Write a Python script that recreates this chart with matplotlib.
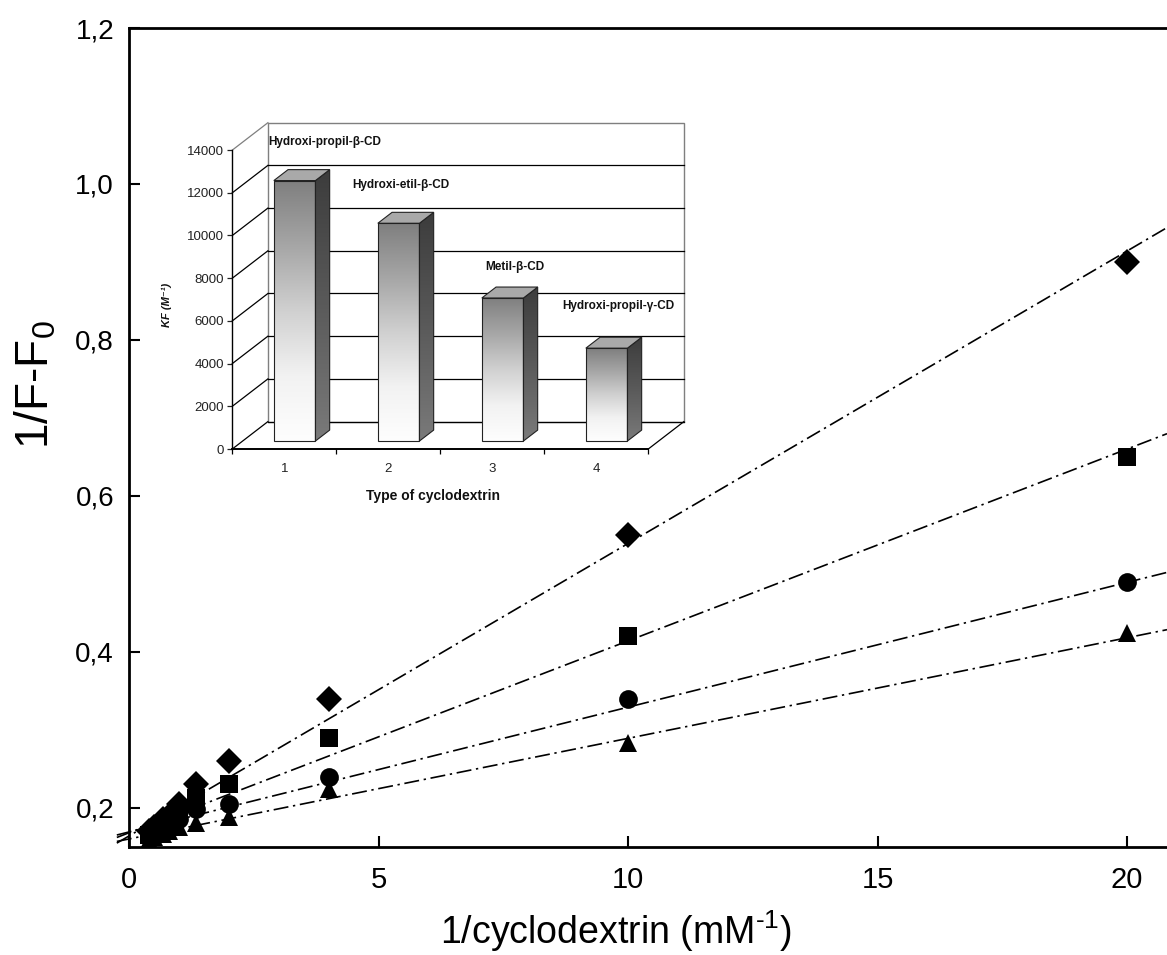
import numpy as np
import matplotlib
matplotlib.use("Agg")
import matplotlib.pyplot as plt
from matplotlib.patches import Polygon
from matplotlib.colors import LinearSegmentedColormap
from matplotlib.ticker import FuncFormatter, FixedLocator

plt.rcParams['font.family'] = ['Liberation Sans', 'DejaVu Sans']
plt.rcParams['mathtext.default'] = 'regular'

# ---- double-reciprocal plot data ----
inv_cd = [0.4, 0.5, 0.67, 0.8, 1.0, 1.33, 2.0, 4.0, 10.0, 20.0]
inv_f_hp_beta = [0.170, 0.175, 0.185, 0.190, 0.205, 0.230, 0.260, 0.340, 0.550, 0.900]
inv_f_he_beta = [0.165, 0.170, 0.178, 0.185, 0.195, 0.213, 0.230, 0.290, 0.420, 0.650]
inv_f_me_beta = [0.163, 0.168, 0.173, 0.178, 0.185, 0.198, 0.205, 0.240, 0.340, 0.490]
inv_f_hp_gamma = [0.158, 0.162, 0.166, 0.170, 0.175, 0.180, 0.188, 0.224, 0.283, 0.424]
series = [inv_f_hp_beta, inv_f_he_beta, inv_f_me_beta, inv_f_hp_gamma]
markers = ['D', 's', 'o', '^']

# linear fits (slope, intercept) of each series
fit_slopes = [0.0375, 0.0246, 0.0160, 0.0129]
fit_intercepts = [0.164, 0.168, 0.169, 0.160]

x_ticks = [0, 5, 10, 15, 20]
y_ticks = [0.2, 0.4, 0.6, 0.8, 1.0, 1.2]

# ---- inset: association constants ----
cd_types = [1, 2, 3, 4]
cd_names = ['Hydroxi-propil-\u03b2-CD', 'Hydroxi-etil-\u03b2-CD',
            'Metil-\u03b2-CD', 'Hydroxi-propil-\u03b3-CD']
kf_values = [12200, 10200, 6700, 4350]
kf_ticks = [0, 2000, 4000, 6000, 8000, 10000, 12000, 14000]

W, H = 1167, 955
fig = plt.figure(figsize=(W / 100, H / 100), dpi=100)


def px_rect(x0, y0, x1, y1):
    return [x0 / W, 1 - y1 / H, (x1 - x0) / W, (y1 - y0) / H]


# ================= main plot =================
ax = fig.add_axes(px_rect(129.3, 28, 1167, 846.7))
ax.set_facecolor('none')
xmax = 20.8
ax.set_xlim(0, xmax)
ax.set_ylim(0.15, 1.2)

xs = np.array([-0.25, xmax])
for slope, icpt in zip(fit_slopes, fit_intercepts):
    ax.plot(xs, icpt + slope * xs, color='black', lw=1.2,
            dashes=(9, 2.8, 1.4, 2.8), clip_on=False, zorder=2)

for ys, mk in zip(series, markers):
    ax.plot(inv_cd, ys, ls='none', marker=mk, ms=13.5, color='black',
            markeredgewidth=0, zorder=3)

ax.spines['right'].set_visible(False)
for s in ('left', 'bottom', 'top'):
    ax.spines[s].set_linewidth(2.0)
ax.xaxis.set_major_locator(FixedLocator(x_ticks))
ax.yaxis.set_major_locator(FixedLocator(y_ticks))
ax.yaxis.set_major_formatter(FuncFormatter(lambda v, _: f"{v:.1f}".replace('.', ',')))
ax.xaxis.set_major_formatter(FuncFormatter(lambda v, _: f"{v:g}"))
ax.tick_params(axis='both', direction='in', length=8, width=1.5,
               top=False, right=False)
ax.tick_params(axis='y', pad=11, labelsize=20)
ax.tick_params(axis='x', pad=14, labelsize=21)

fig.text(616 / W, 1 - 931 / H, '1/cyclodextrin (mM$^{\u2010 1}$)', ha='center',
         va='center', fontsize=27)
fig.text(36 / W, 1 - 385 / H, '1/F-F$_0$', ha='center', va='center',
         rotation=90, fontsize=33)

# ================= inset 3-D bar chart =================
X0_PX, UNIT_PX = 232.3, 104.0          # category axis: x=0.5 at X0_PX
Y0_PX, VAL_PX = 449.0, 42.7 / 2000.0   # value axis: 0 at Y0_PX
L, T, R, B = 180, 100, 705, 515
iax = fig.add_axes(px_rect(L, T, R, B))
iax.set_facecolor('none')

DX = 35.6 / UNIT_PX      # depth shift in category units
DY = 27.4 / VAL_PX       # depth shift in value units
F0, F1 = 0.29, 0.69      # bar depth range (fraction of floor depth)
HALF = 0.2
grid_col = '#7f7f7f'

# back wall
wall = Polygon([(0.5 + DX, DY), (4.5 + DX, DY), (4.5 + DX, kf_ticks[-1] + DY),
                (0.5 + DX, kf_ticks[-1] + DY)], closed=True, facecolor='white',
               edgecolor=grid_col, lw=1.0, zorder=1)
iax.add_patch(wall)
for v in kf_ticks[:-1]:
    iax.plot([0.5 + DX, 4.5 + DX], [v + DY, v + DY], color='black', lw=0.9, zorder=1.5)
for v in kf_ticks:
    col = grid_col if v == kf_ticks[-1] else 'black'
    iax.plot([0.5, 0.5 + DX], [v, v + DY], color=col, lw=0.9, zorder=1.5)
iax.plot([4.5, 4.5 + DX], [0, DY], color='black', lw=0.9, zorder=1.5)

front_cmap = LinearSegmentedColormap.from_list(
    'front', ['#fefefe', '#f2f2f2', '#d0d0d0', '#a6a6a6', '#7f7f7f'])
side_cmap = LinearSegmentedColormap.from_list('side', ['#7a7a7a', '#5a5a5a', '#3c3c3c'])
grad = np.linspace(0, 1, 256).reshape(-1, 1)

for c, v in zip(cd_types, kf_values):
    x0 = c - HALF + F0 * DX
    x1 = c + HALF + F0 * DX
    yb = F0 * DY
    yt = v + F0 * DY
    bdx = (F1 - F0) * DX
    bdy = (F1 - F0) * DY
    # side face
    side = Polygon([(x1, yb), (x1 + bdx, yb + bdy), (x1 + bdx, yt + bdy), (x1, yt)],
                   closed=True, facecolor='none', edgecolor='#222222', lw=0.8, zorder=4)
    iax.add_patch(side)
    im = iax.imshow(grad, extent=(x1, x1 + bdx, yb, yt + bdy), origin='lower',
                    cmap=side_cmap, aspect='auto', interpolation='bilinear', zorder=3)
    im.set_clip_path(side)
    # top face
    top = Polygon([(x0, yt), (x1, yt), (x1 + bdx, yt + bdy), (x0 + bdx, yt + bdy)],
                  closed=True, facecolor='#a9a9a9', edgecolor='#222222', lw=0.8, zorder=4)
    iax.add_patch(top)
    # front face
    iax.imshow(grad, extent=(x0, x1, yb, yt), origin='lower', cmap=front_cmap,
               aspect='auto', interpolation='bilinear', zorder=3)
    front = Polygon([(x0, yb), (x1, yb), (x1, yt), (x0, yt)], closed=True,
                    facecolor='none', edgecolor='#222222', lw=0.8, zorder=4)
    iax.add_patch(front)

# category names written on the back wall
name_pos = [(0.846, 14393), (1.654, 12351), (2.93, 8538), (3.67, 6698)]
for name, (nx, ny) in zip(cd_names, name_pos):
    iax.text(nx, ny, name, ha='left', va='center', fontsize=8.5,
             fontweight='bold', color='#111111', zorder=5)

# inset axes limits expressed through the pixel layout
iax.set_xlim(0.5 + (L - X0_PX) / UNIT_PX, 0.5 + (R - X0_PX) / UNIT_PX)
iax.set_ylim((Y0_PX - B) / VAL_PX, (Y0_PX - T) / VAL_PX)

for s in ('top', 'right'):
    iax.spines[s].set_visible(False)
iax.spines['left'].set_position(('data', 0.5))
iax.spines['left'].set_bounds(0, kf_ticks[-1])
iax.spines['bottom'].set_position(('data', 0))
iax.spines['bottom'].set_bounds(0.5, 4.5)
iax.spines['left'].set_linewidth(1.0)
iax.spines['bottom'].set_linewidth(1.4)
iax.yaxis.set_major_locator(FixedLocator(kf_ticks))
iax.yaxis.set_major_formatter(FuncFormatter(lambda v, _: f"{int(v)}"))
iax.xaxis.set_major_locator(FixedLocator(cd_types))
iax.xaxis.set_minor_locator(FixedLocator([0.5, 1.5, 2.5, 3.5, 4.5]))
iax.xaxis.set_major_formatter(FuncFormatter(lambda v, _: f"{int(v)}"))
iax.tick_params(axis='y', direction='out', length=3.6, width=0.9, labelsize=9.5,
                pad=2.5, colors='#222222')
iax.tick_params(axis='x', which='major', length=0, labelsize=9.5, pad=10,
                colors='#222222')
iax.tick_params(axis='x', which='minor', direction='out', length=3.8, width=0.9)

fig.text(433 / W, 1 - 496 / H, 'Type of cyclodextrin', ha='center', va='center',
         fontsize=10, fontweight='bold', color='#111111')
fig.text(167 / W, 1 - 305 / H, 'KF (M\u207b\u00b9)', ha='center', va='center',
         rotation=90, fontsize=8, fontweight='bold', fontstyle='italic',
         color='#111111')

fig.savefig('out.png', dpi=100)
